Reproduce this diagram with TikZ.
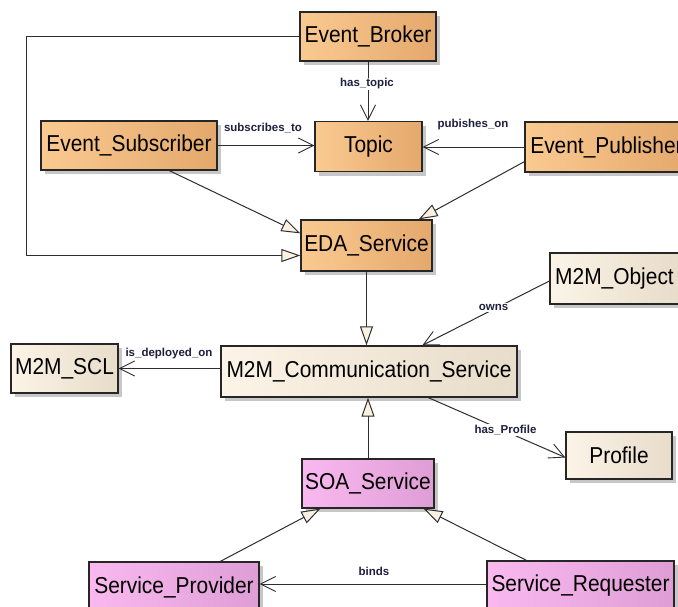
\documentclass[tikz,border=0pt]{standalone}
\usepackage{fontspec}
\setmainfont{Liberation Sans}
\newfontfamily\nodefont[FakeStretch=0.91]{Liberation Sans}
\usetikzlibrary{arrows.meta,shadows,calc}
\definecolor{orL}{HTML}{FACA91}
\definecolor{orR}{HTML}{E4A86C}
\definecolor{beL}{HTML}{FCF4E7}
\definecolor{beR}{HTML}{E8DCCA}
\definecolor{piL}{HTML}{F9B9EF}
\definecolor{piR}{HTML}{DF9DD5}
\definecolor{cream}{HTML}{FAF1E2}
\definecolor{lineC}{HTML}{2E2E2E}
\definecolor{lblC}{HTML}{1E2040}
\begin{document}
\begin{tikzpicture}[x=1pt,y=-1pt,
  box/.style={draw=black!85, line width=1.3pt, inner sep=0pt,
    font=\nodefont\fontsize{23}{26}\selectfont,
    drop shadow={shadow xshift=4pt, shadow yshift=-4pt, fill=black!22, opacity=1}},
  evtbox/.style={box, left color=orL, right color=orR},
  objbox/.style={box, left color=beL, right color=beR},
  soabox/.style={box, left color=piL, right color=piR},
  conn/.style={draw=lineC, line width=1pt},
  gen/.style={conn, -{Triangle[length=19pt,width=13pt,fill=cream]}},
  assoc/.style={conn, -{Straight Barb[length=15pt,width=15pt,line width=0.9pt]}},
  lbl/.style={font=\bfseries\fontsize{11.5}{13}\selectfont, text=lblC, inner sep=1pt},
  lblw/.style={lbl, fill=white}
]
\useasboundingbox (0,0) rectangle (678,606);
\clip (0,0) rectangle (678,606);
\fill[white] (0,0) rectangle (678,606);

% nodes
\node[evtbox, minimum width=136pt, minimum height=49pt] (broker) at (368,36.5) {Event\_Broker};
\node[evtbox, minimum width=176pt, minimum height=49pt] (sub) at (129,145.5) {Event\_Subscriber};
\node[evtbox, minimum width=107pt, minimum height=50pt] (topic) at (368.5,146.5) {Topic};
\node[evtbox, minimum width=163pt, minimum height=50pt] (pub) at (606.5,147) {Event\_Publisher};
\node[evtbox, minimum width=131pt, minimum height=51pt] (eda) at (366.5,245.5) {EDA\_Service};
\node[objbox, minimum width=129pt, minimum height=51pt] (obj) at (614.5,278.5) {M2M\_Object};
\node[objbox, minimum width=107pt, minimum height=49pt] (scl) at (64.5,368.5) {M2M\_SCL};
\node[objbox, minimum width=296pt, minimum height=51pt] (m2m) at (369,371.5) {M2M\_Communication\_Service};
\node[objbox, minimum width=106pt, minimum height=47pt] (profile) at (619,455.5) {Profile};
\node[soabox, minimum width=132pt, minimum height=49pt] (soa) at (368,483.5) {SOA\_Service};
\node[soabox, minimum width=170pt, minimum height=50pt] (prov) at (174,587) {Service\_Provider};
\node[soabox, minimum width=187pt, minimum height=50pt] (req) at (580.5,586) {Service\_Requester};

\coordinate (depS) at ($(m2m.west)+(0,-3)$);
\coordinate (bindS) at ($(req.west)+(0,-2)$);

% connectors
\draw[assoc] (broker.south) -- (broker.south |- topic.north);
\draw[assoc] (sub.east) -- (sub.east -| topic.west);
\draw[assoc] (pub.west) -- (pub.west -| topic.east);
\draw[gen] ($(sub.south west)+(129,0)$) -- ($(eda.north west)+(0,14)$);
\draw[gen] (broker.west) -- ++(-273,0) |- ($(eda.west)+(0,10)$);
\draw[gen] ($(pub.south west)+(0,-11)$) -- ($(eda.north east)+(-14,0)$);
\draw[gen] (eda.south) -- (eda.south |- m2m.north);
\draw[assoc] ($(obj.west)+(0,2.5)$) -- ($(m2m.north west)+(202,0)$);
\draw[assoc] (depS) -- (depS -| scl.east);
\draw[assoc] ($(m2m.south west)+(208,0)$) -- ($(profile.west)+(0,2)$);
\draw[gen] (soa.north) -- (soa.north |- m2m.south);
\draw[gen] ($(prov.north west)+(132,0)$) -- ($(soa.south west)+(19,0)$);
\draw[gen] ($(req.north west)+(40,0)$) -- ($(soa.south east)+(-11,0)$);
\draw[assoc] (bindS) -- (bindS -| prov.east);

% labels
\node[lblw] (lhas) at (367,84) {has\_topic};
\node[lbl] (lsub) at (263,128.5) {subscribes\_to};
\node[lbl] (lpub) at (473,125) {pubishes\_on};
\node[lblw] (lowns) at (493.5,307.5) {owns};
\node[lbl] (ldep) at (169,354) {is\_deployed\_on};
\node[lblw] (lprof) at (505.5,430) {has\_Profile};
\node[lbl] (lbinds) at (374,571) {binds};
\end{tikzpicture}
\end{document}
